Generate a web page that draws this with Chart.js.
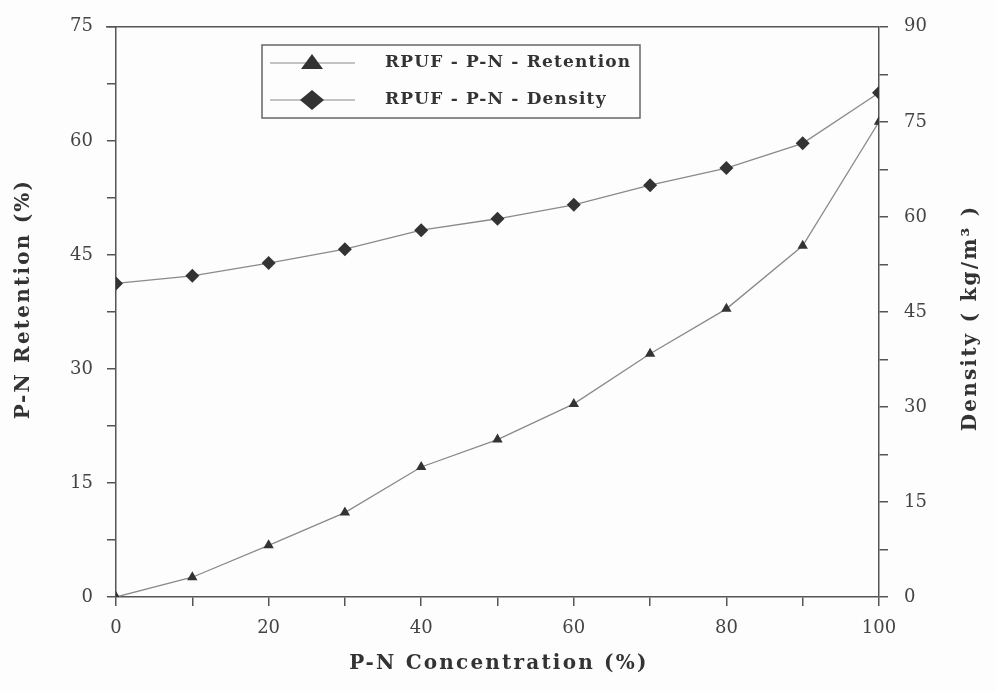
<!DOCTYPE html>
<html>
<head>
<meta charset="utf-8">
<script src="https://cdn.jsdelivr.net/npm/chart.js@4/dist/chart.umd.min.js"></script>
<style>
  html, body { margin: 0; padding: 0; background: #fdfdfd; }
  #wrap { width: 996px; height: 692px; }
</style>
</head>
<body>
<div id="wrap"><canvas id="pnChart" width="996" height="692"></canvas></div>
<script>
// P-N concentration (%)
const concentration = [0, 10, 20, 30, 40, 50, 60, 70, 80, 90, 100];
// P-N retention (%) - left axis
const retention = [0, 2.6, 6.8, 11.1, 17.1, 20.7, 25.4, 32, 37.9, 46.2, 62.5];
// density (kg/m3) - right axis
const density = [49.5, 50.7, 52.7, 54.9, 57.9, 59.7, 61.9, 65, 67.7, 71.6, 79.6];

const retentionLabel = 'RPUF - P-N - Retention';
const densityLabel = 'RPUF - P-N - Density';
const xTitle = 'P-N Concentration (%)';
const yTitle = 'P-N Retention (%)';
const y2Title = 'Density ( kg/m\u00B3 )';

const serif = '"DejaVu Serif", "Liberation Serif", serif';
const axisColor = '#555';
const lineColor = '#8a8a8a';
const markColor = '#333';

const toPoints = (xs, ys) => xs.map((x, i) => ({ x: x, y: ys[i] }));

// spaced-out bold title text, rotated if needed
const drawTitle = (ctx, text, x, y, angle) => {
    ctx.save();
    ctx.translate(x, y);
    ctx.rotate(angle);
    ctx.fillStyle = '#333';
    ctx.font = 'bold 20px ' + serif;
    ctx.letterSpacing = '2.2px';
    ctx.textAlign = 'center';
    ctx.textBaseline = 'middle';
    ctx.fillText(text, 0, 0);
    ctx.restore();
};

// box legend with line + marker samples, frame top line and axis titles
const extrasPlugin = {
    id: 'extras',
    afterDraw: (chart) => {
        const ctx = chart.ctx;
        const area = chart.chartArea;
        ctx.save();

        // top frame line
        ctx.strokeStyle = axisColor;
        ctx.lineWidth = 1.5;
        ctx.beginPath();
        ctx.moveTo(area.left - 10, area.top);
        ctx.lineTo(area.right, area.top);
        ctx.stroke();

        // legend box
        const box = { x: 262, y: 45, w: 378, h: 73 };
        ctx.fillStyle = '#fdfdfd';
        ctx.fillRect(box.x, box.y, box.w, box.h);
        ctx.strokeStyle = '#666';
        ctx.lineWidth = 1.5;
        ctx.strokeRect(box.x, box.y, box.w, box.h);

        chart.data.datasets.forEach((ds, i) => {
            const cy = 63 + i * 37;
            ctx.strokeStyle = lineColor;
            ctx.lineWidth = 1.2;
            ctx.beginPath();
            ctx.moveTo(270, cy);
            ctx.lineTo(355, cy);
            ctx.stroke();

            ctx.fillStyle = markColor;
            ctx.beginPath();
            if (ds.pointStyle === 'triangle') {
                ctx.moveTo(312, cy - 9);
                ctx.lineTo(323, cy + 6);
                ctx.lineTo(301, cy + 6);
            } else {
                ctx.moveTo(312, cy - 10);
                ctx.lineTo(324, cy);
                ctx.lineTo(312, cy + 10);
                ctx.lineTo(300, cy);
            }
            ctx.closePath();
            ctx.fill();

            ctx.fillStyle = '#333';
            ctx.font = 'bold 17px ' + serif;
            ctx.letterSpacing = '1.2px';
            ctx.textAlign = 'left';
            ctx.textBaseline = 'middle';
            ctx.fillText(ds.label, 385, cy);
            ctx.letterSpacing = '0px';
        });
        ctx.restore();

        drawTitle(ctx, xTitle, 499, 664, 0);
        drawTitle(ctx, yTitle, 24, 299, -Math.PI / 2);
        drawTitle(ctx, y2Title, 971, 318, -Math.PI / 2);
    }
};

const axisGrid = {
    display: true,
    drawOnChartArea: false,
    drawTicks: true,
    tickLength: 9,
    color: axisColor,
    lineWidth: 1.5
};
const axisBorder = { display: true, color: axisColor, width: 1.5 };
const tickFont = { family: serif, size: 18 };

new Chart(document.getElementById('pnChart'), {
    type: 'line',
    data: {
        datasets: [
            {
                label: retentionLabel,
                data: toPoints(concentration, retention),
                yAxisID: 'y',
                borderColor: lineColor,
                borderWidth: 1.3,
                pointStyle: 'triangle',
                pointRadius: 6,
                pointBackgroundColor: markColor,
                pointBorderColor: markColor,
                pointBorderWidth: 0,
                tension: 0
            },
            {
                label: densityLabel,
                data: toPoints(concentration, density),
                yAxisID: 'y2',
                borderColor: lineColor,
                borderWidth: 1.3,
                pointStyle: 'rectRot',
                pointRadius: 7,
                pointBackgroundColor: markColor,
                pointBorderColor: markColor,
                pointBorderWidth: 0,
                tension: 0
            }
        ]
    },
    options: {
        responsive: false,
        animation: false,
        layout: { padding: { top: 24, left: 0, right: 0, bottom: 0 } },
        plugins: {
            legend: { display: false },
            tooltip: { enabled: false }
        },
        scales: {
            x: {
                type: 'linear',
                min: 0,
                max: 100,
                grid: axisGrid,
                border: axisBorder,
                ticks: {
                    stepSize: 10,
                    padding: 12,
                    color: '#444',
                    font: tickFont,
                    maxRotation: 0,
                    callback: (v) => (v % 20 === 0 ? v : '')
                },
                afterFit: (scale) => { scale.height = 95; }
            },
            y: {
                position: 'left',
                min: 0,
                max: 75,
                grid: axisGrid,
                border: axisBorder,
                ticks: {
                    stepSize: 7.5,
                    padding: 14,
                    color: '#444',
                    font: tickFont,
                    callback: (v) => (v % 15 === 0 ? v : '')
                },
                afterFit: (scale) => { scale.width = 116; }
            },
            y2: {
                position: 'right',
                min: 0,
                max: 90,
                grid: axisGrid,
                border: axisBorder,
                ticks: {
                    stepSize: 7.5,
                    padding: 16,
                    color: '#444',
                    font: tickFont,
                    callback: (v) => (v % 15 === 0 ? v : '')
                },
                afterFit: (scale) => { scale.width = 117; }
            }
        }
    },
    plugins: [extrasPlugin]
});
</script>
</body>
</html>
